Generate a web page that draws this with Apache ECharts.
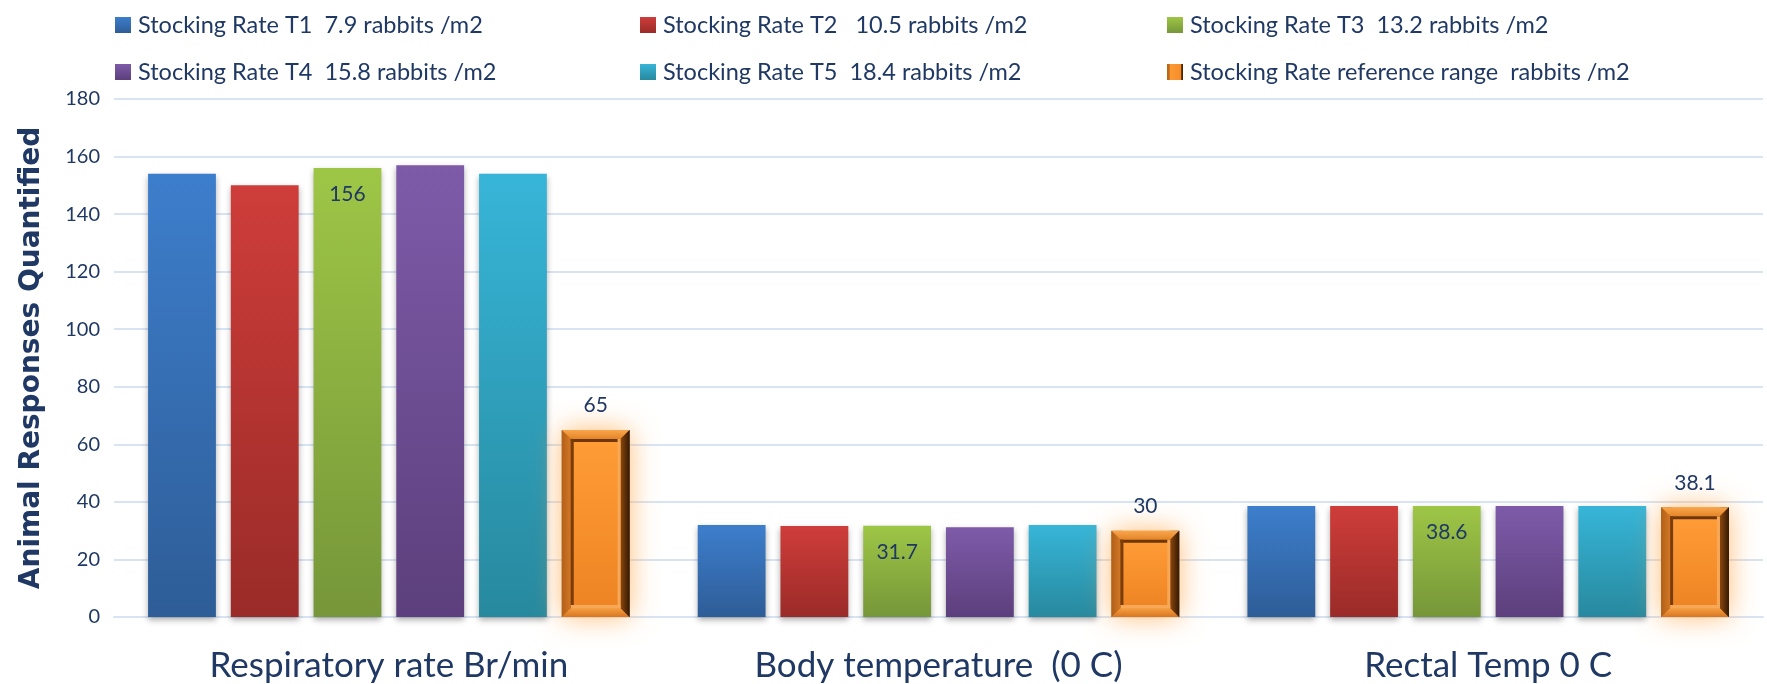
<!DOCTYPE html>
<html>
<head>
<meta charset="utf-8">
<title>Animal Responses by Stocking Rate</title>
<script src="https://cdn.jsdelivr.net/npm/echarts@6/dist/echarts.min.js"></script>
<style>
  html, body { margin: 0; padding: 0; background: #ffffff; }
  #chart { width: 1767px; height: 684px; }
</style>
</head>
<body>
<div id="chart"></div>
<script>
// Categories on the x axis
const categories = ['Respiratory rate Br/min', 'Body temperature  (0 C)', 'Rectal Temp 0 C'];

// Series names (legend text)
const seriesNames = [
  'Stocking Rate T1  7.9 rabbits /m2',
  'Stocking Rate T2   10.5 rabbits /m2',
  'Stocking Rate T3  13.2 rabbits /m2',
  'Stocking Rate T4  15.8 rabbits /m2',
  'Stocking Rate T5  18.4 rabbits /m2',
  'Stocking Rate reference range  rabbits /m2'
];

// Values per stocking rate, one per category
const t1 = [154, 32, 38.6];
const t2 = [150, 31.6, 38.6];
const t3 = [156, 31.7, 38.6];
const t4 = [157, 31.2, 38.6];
const t5 = [154, 32, 38.6];
const reference = [65, 30, 38.1];

// Y axis ticks
const yMin = 0, yMax = 180, yStep = 20;

const textColor = '#1F3864';
const gridColor = '#D8E4F3';

function vGrad(top, bottom) {
  return new echarts.graphic.LinearGradient(0, 0, 0, 1, [
    { offset: 0, color: top },
    { offset: 1, color: bottom }
  ]);
}

const palette = [
  ['#3D7ECC', '#2E5D97'],
  ['#CE3D3A', '#9A2B28'],
  ['#9EC646', '#769639'],
  ['#7E5BA9', '#5C3F7C'],
  ['#37B5D8', '#27899E']
];

const BAR_CAT_GAP = 0.124;
const BAR_GAP = 0.22;

const barShadow = {
  shadowColor: 'rgba(0,0,0,0.32)',
  shadowBlur: 6,
  shadowOffsetY: 3
};

const labelStyle = {
  fontFamily: 'Lato',
  fontSize: 21,
  color: textColor
};

const plainSeries = [t1, t2, t3, t4, t5].map((vals, i) => ({
  name: seriesNames[i],
  type: 'bar',
  data: vals,
  barGap: (BAR_GAP * 100) + '%',
  barCategoryGap: (BAR_CAT_GAP * 100) + '%',
  itemStyle: Object.assign({ color: vGrad(palette[i][0], palette[i][1]) }, barShadow),
  label: i === 2 ? Object.assign({ show: true, position: 'insideTop', distance: 16 }, labelStyle) : { show: false },
  z: 2
}));

const orangeFill = new echarts.graphic.LinearGradient(0, 0, 1, 0, [
  { offset: 0, color: '#B8631B' },
  { offset: 0.12, color: '#C46D1F' },
  { offset: 0.13, color: '#6B3409' },
  { offset: 0.17, color: '#FF9A33' },
  { offset: 0.85, color: '#F58C28' },
  { offset: 0.88, color: '#7A3D0C' },
  { offset: 1, color: '#3E1E05' }
]);

// Reference range bars: glowing base bar
const referenceBar = {
  name: seriesNames[5],
  type: 'bar',
  data: reference,
  barGap: (BAR_GAP * 100) + '%',
  barCategoryGap: (BAR_CAT_GAP * 100) + '%',
  itemStyle: {
    color: orangeFill,
    shadowColor: 'rgba(255,160,60,0.7)',
    shadowBlur: 28
  },
  label: Object.assign({ show: true, position: 'top', distance: 14 }, labelStyle),
  z: 2
};

// Bevelled frame drawn over the reference bars, positioned in the 6th bar slot
const referenceBevel = {
  type: 'custom',
  silent: true,
  z: 3,
  data: reference.map((v, i) => [i, v]),
  renderItem: function (params, api) {
    const cat = api.value(0);
    const val = api.value(1);
    const topPt = api.coord([cat, val]);
    const basePt = api.coord([cat, 0]);
    const band = api.size([1, 0])[0];
    const n = 6;
    const bw = band * (1 - BAR_CAT_GAP) / (n + (n - 1) * BAR_GAP);
    const total = n * bw + (n - 1) * BAR_GAP * bw;
    const x0 = topPt[0] - total / 2 + 5 * bw * (1 + BAR_GAP);
    const x1 = x0 + bw;
    const y0 = topPt[1];
    const y1 = basePt[1];
    const t = 9;
    const r = 3;
    return {
      type: 'group',
      children: [
        { type: 'rect', shape: { x: x0 + t, y: y0 + t, width: bw - 2 * t, height: y1 - y0 - 2 * t },
          style: { fill: vGrad('#FF9C36', '#EE8424') } },
        { type: 'polygon', shape: { points: [[x0, y0], [x1, y0], [x1 - t, y0 + t], [x0 + t, y0 + t]] },
          style: { fill: vGrad('#F9A64D', '#E48529') } },
        { type: 'polygon', shape: { points: [[x0, y1], [x1, y1], [x1 - t, y1 - t], [x0 + t, y1 - t]] },
          style: { fill: vGrad('#F6A045', '#D8761E') } },
        { type: 'polygon', shape: { points: [[x0, y0], [x0 + t, y0 + t], [x0 + t, y1 - t], [x0, y1]] },
          style: { fill: new echarts.graphic.LinearGradient(0, 0, 1, 0, [
            { offset: 0, color: '#B25F18' }, { offset: 1, color: '#D27826' }]) } },
        { type: 'polygon', shape: { points: [[x1, y0], [x1 - t, y0 + t], [x1 - t, y1 - t], [x1, y1]] },
          style: { fill: new echarts.graphic.LinearGradient(0, 0, 1, 0, [
            { offset: 0, color: '#8A4710' }, { offset: 1, color: '#351902' }]) } },
        { type: 'rect', shape: { x: x0 + t, y: y0 + t, width: bw - 2 * t, height: r },
          style: { fill: '#6E3609' } },
        { type: 'rect', shape: { x: x0 + t, y: y0 + t, width: r, height: y1 - y0 - 2 * t },
          style: { fill: '#7A3C0B' } },
        { type: 'rect', shape: { x: x1 - t - r, y: y0 + t, width: r, height: y1 - y0 - 2 * t },
          style: { fill: '#F7A857' } },
        { type: 'rect', shape: { x: x0 + t, y: y1 - t - r, width: bw - 2 * t, height: r },
          style: { fill: '#F7A857' } }
      ]
    };
  }
};

// One legend block per entry to keep the three-column layout
const legendCols = [115, 640, 1167];
const legendRows = [13, 60];
const legends = seriesNames.map((name, i) => ({
  data: [name],
  left: legendCols[i % 3],
  top: legendRows[Math.floor(i / 3)],
  padding: 0,
  icon: 'rect',
  itemWidth: 16,
  itemHeight: 16,
  itemGap: 0,
  selectedMode: false,
  textStyle: { fontFamily: 'Lato', fontSize: 23.5, color: textColor, padding: [0, 0, 0, 2] }
}));

const chart = echarts.init(document.getElementById('chart'), null, { renderer: 'canvas' });
chart.setOption({
  backgroundColor: '#ffffff',
  animation: false,
  legend: legends,
  grid: { left: 114, right: 4, top: 99, bottom: 67, containLabel: false },
  xAxis: {
    type: 'category',
    data: categories,
    axisTick: { show: false },
    axisLine: { lineStyle: { color: gridColor, width: 2 } },
    axisLabel: { fontFamily: 'Lato', fontSize: 35, color: textColor, margin: 31 }
  },
  yAxis: {
    type: 'value',
    min: yMin,
    max: yMax,
    interval: yStep,
    name: 'Animal Responses Quantified',
    nameLocation: 'middle',
    nameGap: 68,
    nameTextStyle: { fontFamily: 'DejaVu Sans', fontWeight: 'bold', fontSize: 28, color: textColor },
    axisLine: { show: false },
    axisTick: { show: false },
    axisLabel: { fontFamily: 'Lato', fontSize: 20, color: textColor, margin: 14 },
    splitLine: { lineStyle: { color: gridColor, width: 2 } }
  },
  series: plainSeries.concat([referenceBar, referenceBevel])
});
</script>
</body>
</html>
